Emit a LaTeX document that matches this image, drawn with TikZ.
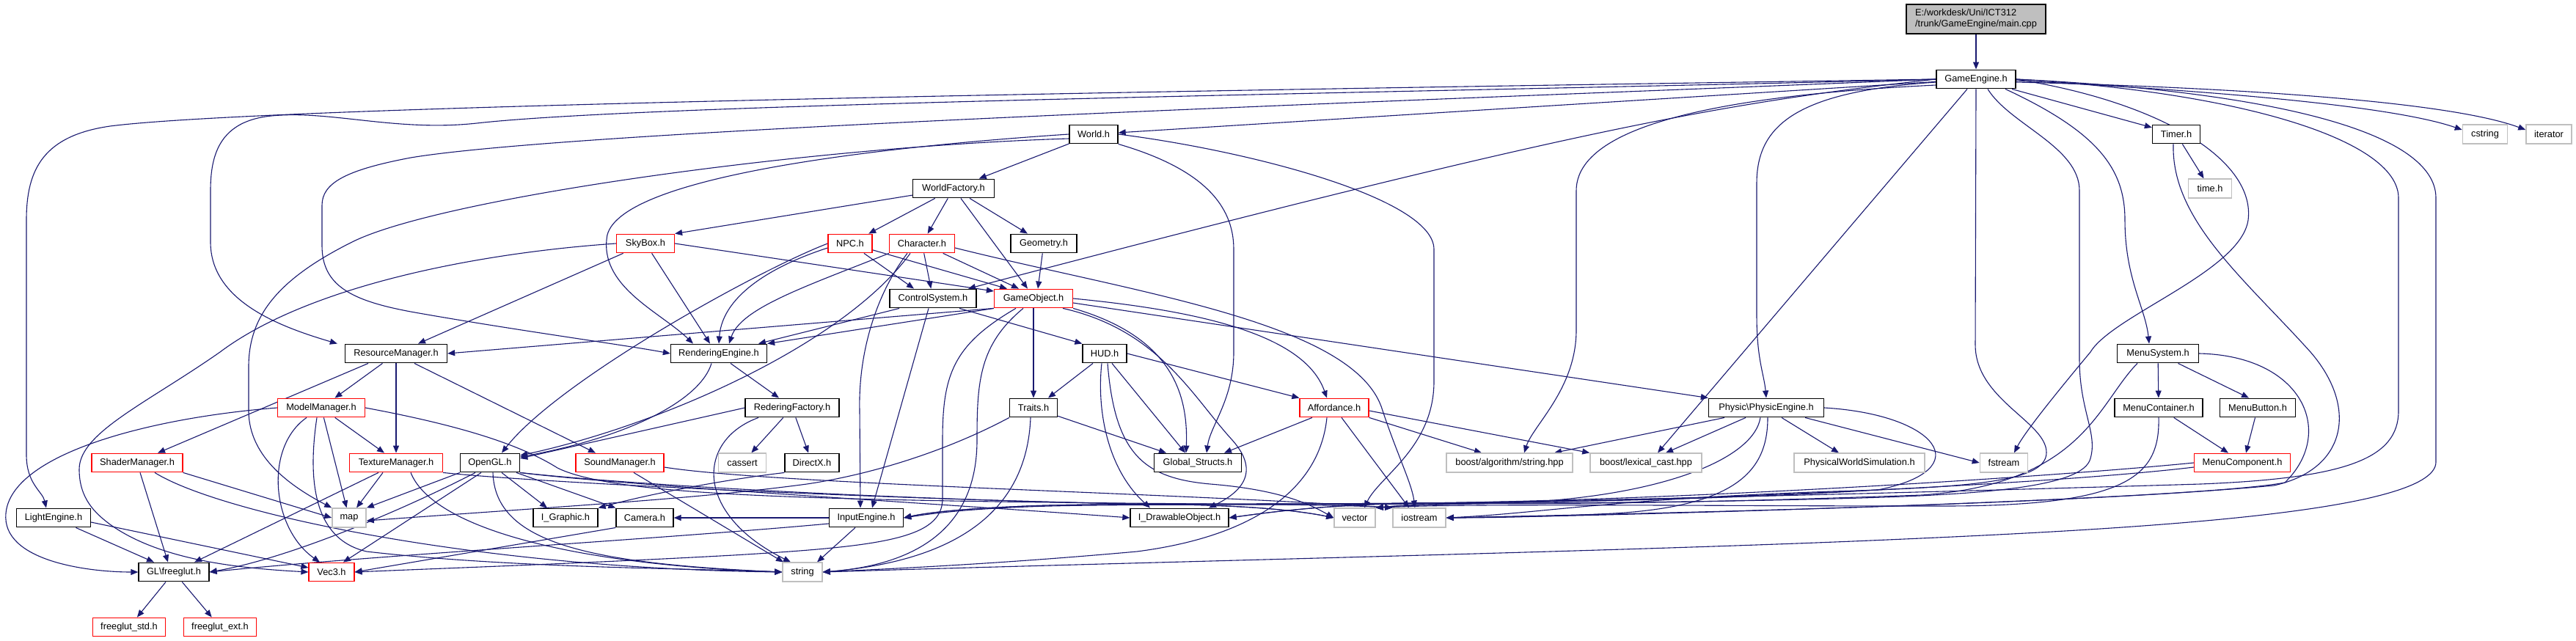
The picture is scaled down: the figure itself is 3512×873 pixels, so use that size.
\documentclass[tikz,border=0pt]{standalone}
\usepackage{fontspec}
\newfontfamily\nodefont{Liberation Sans}
\usetikzlibrary{arrows.meta}
\definecolor{edgec}{RGB}{25,25,112}
\definecolor{sysc}{RGB}{191,191,191}
\definecolor{mainfill}{RGB}{191,191,191}
\pgfdeclarelayer{bgl}
\pgfdeclarelayer{edgel}
\pgfsetlayers{bgl,edgel,main}
\tikzset{
  nd/.style={rectangle, inner sep=0pt, minimum height=12.8pt, fill=white, text=black, font=\nodefont\fontsize{6.4}{7.6}\selectfont},
  blk/.style={nd, draw=black, line width=0.65pt},
  rnd/.style={nd, draw=red, line width=0.6pt},
  sys/.style={nd, draw=sysc, line width=0.8pt},
  mainnode/.style={nd, draw=black, line width=0.65pt, fill=mainfill, minimum height=20pt, align=left},
  dep/.style={draw=edgec, line width=0.55pt, -{Triangle[length=5pt,width=4pt]}},
}
\begin{document}
\begin{tikzpicture}[x=0.5pt,y=-0.5pt]
\begin{pgfonlayer}{bgl}
\fill[white] (0,0) rectangle (3512,873);
\end{pgfonlayer}
\useasboundingbox (0,0) rectangle (3512,873);

% ---------------- nodes ----------------
\node[mainnode, minimum width=95pt] (main) at (2694,26) {E:/workdesk/Uni/ICT312\\/trunk/GameEngine/main.cpp};
\node[blk,minimum width=54pt] (GE) at (2694,108) {GameEngine.h};
\node[blk,minimum width=33pt] (World) at (1491,183) {World.h};
\node[blk,minimum width=32.5pt] (Timer) at (2967,183) {Timer.h};
\node[sys,minimum width=30.5pt] (cstring) at (3388,183) {cstring};
\node[sys,minimum width=31pt] (iterator) at (3475,183) {iterator};
\node[blk,minimum width=55.5pt] (WF) at (1300,257) {WorldFactory.h};
\node[sys,minimum width=29.5pt] (time) at (3013,257) {time.h};
\node[rnd,minimum width=39.5pt] (SkyBox) at (880,332) {SkyBox.h};
\node[rnd,minimum width=30pt] (NPC) at (1159,332) {NPC.h};
\node[rnd,minimum width=44.5pt] (Char) at (1257,332) {Character.h};
\node[blk,minimum width=45pt] (Geom) at (1423,332) {Geometry.h};
\node[blk,minimum width=59pt] (CS) at (1272,407) {ControlSystem.h};
\node[rnd,minimum width=53.5pt] (GO) at (1409,407) {GameObject.h};
\node[blk,minimum width=69.5pt] (RM) at (540,482) {ResourceManager.h};
\node[blk,minimum width=65.5pt] (RE) at (980,482) {RenderingEngine.h};
\node[blk,minimum width=30pt] (HUD) at (1506,482) {HUD.h};
\node[blk,minimum width=55.5pt] (MS) at (2942,482) {MenuSystem.h};
\node[rnd,minimum width=59.5pt] (MM) at (438,556) {ModelManager.h};
\node[blk,minimum width=64pt] (RF) at (1080,556) {RederingFactory.h};
\node[blk,minimum width=32.5pt] (Traits) at (1409,556) {Traits.h};
\node[rnd,minimum width=47pt] (Aff) at (1819,556) {Affordance.h};
\node[blk,minimum width=78.5pt] (PE) at (2408,556) {Physic\textbackslash PhysicEngine.h};
\node[blk,minimum width=60pt] (MC) at (2943,556) {MenuContainer.h};
\node[blk,minimum width=51.5pt] (MB) at (3078,556) {MenuButton.h};
\node[rnd,minimum width=62pt] (SM) at (187,631) {ShaderManager.h};
\node[rnd,minimum width=63.5pt] (TM) at (540,631) {TextureManager.h};
\node[blk,minimum width=40.5pt] (OGL) at (668,631) {OpenGL.h};
\node[rnd,minimum width=60pt] (SndM) at (845,631) {SoundManager.h};
\node[sys,minimum width=32.5pt] (cassert) at (1012,631) {cassert};
\node[blk,minimum width=37pt] (DX) at (1107,631) {DirectX.h};
\node[blk,minimum width=59.5pt] (GS) at (1633,631) {Global\_Structs.h};
\node[sys,minimum width=86pt] (balg) at (2058,631) {boost/algorithm/string.hpp};
\node[sys,minimum width=76pt] (blex) at (2244,631) {boost/lexical\_cast.hpp};
\node[sys,minimum width=89pt] (PWS) at (2535,631) {PhysicalWorldSimulation.h};
\node[sys,minimum width=32.5pt] (fstream) at (2732,631) {fstream};
\node[rnd,minimum width=65.5pt] (MComp) at (3057,631) {MenuComponent.h};
\node[blk,minimum width=50.5pt] (LE) at (73,706) {LightEngine.h};
\node[sys,minimum width=23pt] (map) at (476,706) {map};
\node[blk,minimum width=44pt] (IG) at (771,706) {I\_Graphic.h};
\node[blk,minimum width=39pt] (Cam) at (879,706) {Camera.h};
\node[blk,minimum width=50.5pt] (IE) at (1181,706) {InputEngine.h};
\node[blk,minimum width=67pt] (IDO) at (1608,706) {I\_DrawableObject.h};
\node[sys,minimum width=28pt] (vector) at (1847,706) {vector};
\node[sys,minimum width=36pt] (iostream) at (1935,706) {iostream};
\node[blk,minimum width=48pt] (GL) at (237,780) {GL\textbackslash freeglut.h};
\node[rnd,minimum width=31pt] (Vec3) at (452,780) {Vec3.h};
\node[sys,minimum width=27pt] (string) at (1094,780) {string};
\node[rnd,minimum width=49.5pt] (fstd) at (176,855) {freeglut\_std.h};
\node[rnd,minimum width=49.5pt] (fext) at (300,855) {freeglut\_ext.h};

% ---------------- edges ----------------
\begin{pgfonlayer}{edgel}
\draw[dep] (main) -- (GE);
% GameEngine.h
\draw[dep] (GE) -- (World);
\draw[dep] (GE) -- (Timer);
\draw[dep] ([yshift=-1pt]GE.east) .. controls (2950,120) and (3250,140) .. ([yshift=3pt]cstring.west);
\draw[dep] ([yshift=-2pt]GE.east) .. controls (3000,118) and (3330,135) .. ([yshift=3pt]iterator.west);
\draw[dep] (GE.west) .. controls (2000,118) and (400,140) .. (150,172) .. controls (60,185) and (36,230) .. (36,300) -- (36,620) .. controls (36,660) and (58,670) .. ([xshift=-5pt]LE.north);
\draw[dep] (GE.west) .. controls (2000,125) and (900,140) .. (650,168) .. controls (540,180) and (450,150) .. (370,158) .. controls (300,165) and (287,210) .. (287,260) -- (287,330) .. controls (287,410) and (380,445) .. ([xshift=-5pt]RM.north west);
\draw[dep] (GE.west) .. controls (2000,135) and (800,175) .. (560,215) .. controls (470,232) and (439,250) .. (439,280) -- (439,335) .. controls (439,390) and (480,410) .. (560,425) .. controls (700,450) and (850,470) .. (RE.west);
\draw[dep] (GE.west) .. controls (2350,140) and (2150,175) .. ([xshift=24pt]CS.north);
\draw[dep] ([xshift=20pt]GE.south) .. controls (2860,180) and (2897,230) .. (2897,300) .. controls (2897,380) and (2925,420) .. ([xshift=-6pt]MS.north);
\draw[dep] ([yshift=-2pt]GE.west) .. controls (2450,125) and (2395,170) .. (2395,250) -- (2395,430) .. controls (2395,490) and (2405,510) .. (PE.north);
\draw[dep] ([yshift=-4pt]GE.west) .. controls (2350,130) and (2149,170) .. (2149,260) -- (2149,450) .. controls (2149,530) and (2090,580) .. ([xshift=10pt]balg.north);
\draw[dep] ([xshift=-6pt]GE.south) -- ([xshift=8pt]blex.north);
\draw[dep] (GE.east) .. controls (2950,140) and (3075,220) .. (3065,300) .. controls (3055,370) and (2880,430) .. (2850,480) .. controls (2800,540) and (2760,590) .. ([xshift=7pt]fstream.north);
\draw[dep] (GE.east) .. controls (3100,125) and (3321,180) .. (3321,270) -- (3321,630) .. controls (3321,700) and (2900,722) .. (2550,737) .. controls (2200,752) and (1500,768) .. (string.east);
\draw[dep] (GE.east) .. controls (3050,125) and (3270,190) .. (3270,270) -- (3270,560) .. controls (3270,625) and (3200,652) .. (3000,660) .. controls (2500,675) and (2100,684) .. (1935,686) .. controls (1700,688) and (1500,686) .. (1400,690) .. controls (1300,694) and (1260,700) .. (IE.east);
\draw[dep] (GE.south) -- (2693,470) .. controls (2693,545) and (2790,575) .. (2790,617) .. controls (2790,655) and (2700,664) .. (2500,670) .. controls (2200,680) and (2100,700) .. (iostream.east);
\draw[dep] ([xshift=8pt]GE.south) .. controls (2740,170) and (2835,200) .. (2835,260) -- (2835,490) .. controls (2835,560) and (2860,590) .. (2850,625) .. controls (2840,665) and (2700,675) .. (2500,680) .. controls (2200,688) and (1950,684) .. (vector.north east);
% Timer.h
\draw[dep] (Timer) -- (time);
\draw[dep] ([xshift=-2pt]Timer.south) .. controls (2960,300) and (3060,380) .. (3150,480) .. controls (3215,555) and (3200,640) .. (3100,662) .. controls (2800,690) and (2150,702) .. (iostream.east);
% World.h
\draw[dep] (World) -- (WF);
\draw[dep] (World.west) .. controls (1200,200) and (850,240) .. (828,320) .. controls (815,390) and (900,425) .. ([xshift=-17.5pt]RE.north);
\draw[dep] ([yshift=-3pt]World.west) .. controls (1100,200) and (600,270) .. (480,330) .. controls (380,380) and (339,430) .. (339,500) -- (339,560) .. controls (339,625) and (400,665) .. (map.north west);
\draw[dep] (World.south east) .. controls (1640,230) and (1682,280) .. (1682,340) -- (1682,480) .. controls (1682,545) and (1650,580) .. ([xshift=6pt]GS.north);
\draw[dep] (World.east) .. controls (1700,205) and (1955,270) .. (1955,340) -- (1955,520) .. controls (1955,610) and (1880,650) .. ([xshift=6.5pt]vector.north);
% WorldFactory.h
\draw[dep] (WF) -- (SkyBox.north east);
\draw[dep] (WF) -- (NPC);
\draw[dep] (WF) -- (Char);
\draw[dep] (WF) -- (Geom);
\draw[dep] (WF) -- ([xshift=-4pt]GO.north);
% SkyBox.h
\draw[dep] (SkyBox) -- ([xshift=15pt]RM.north);
\draw[dep] (SkyBox) -- ([xshift=-6pt]RE.north);
\draw[dep] (SkyBox.east) -- ([yshift=5pt]GO.west);
\draw[dep] (SkyBox.west) .. controls (650,345) and (420,390) .. (300,480) .. controls (200,550) and (108,590) .. (108,640) .. controls (108,680) and (130,700) .. (150,715) .. controls (220,765) and (330,775) .. (Vec3.west);
% NPC.h
\draw[dep] (NPC.west) .. controls (1030,370) and (760,520) .. ([xshift=8pt]OGL.north);
\draw[dep] ([yshift=-3pt]NPC.west) .. controls (1060,360) and (985,400) .. (RE.north);
\draw[dep] (NPC) -- ([xshift=-13pt]CS.north);
\draw[dep] (NPC) -- ([xshift=-18pt]GO.north);
% Character.h
\draw[dep] (Char.south west) .. controls (1100,390) and (1010,420) .. ([xshift=7pt]RE.north);
\draw[dep] ([xshift=-8pt]Char.south) .. controls (1150,470) and (900,580) .. ([yshift=5pt]OGL.east);
\draw[dep] ([xshift=-10pt]Char.south) .. controls (1195,400) and (1170,480) .. (1172,560) -- ([xshift=-4pt]IE.north);
\draw[dep] (Char) -- (CS);
\draw[dep] (Char) -- ([xshift=-10pt]GO.north);
\draw[dep] ([yshift=-3pt]Char.east) .. controls (1550,400) and (1850,440) .. (1885,560) .. controls (1905,620) and (1925,660) .. ([xshift=-3pt]iostream.north);
% Geometry.h
\draw[dep] (Geom) -- ([xshift=3pt]GO.north);
% ControlSystem.h
\draw[dep] ([xshift=-23pt]CS.south) -- ([xshift=27pt]RE.north);
\draw[dep] ([xshift=-3pt]CS.south) -- ([xshift=4pt]IE.north);
\draw[dep] ([xshift=18pt]CS.south) -- (HUD.north west);
% GameObject.h
\draw[dep] (GO.south west) -- (RM.east);
\draw[dep] (GO.south west) -- (RE.north east);
\draw[dep] (GO) -- (Traits);
\draw[dep] (GO.south east) .. controls (1600,460) and (1620,540) .. ([xshift=-8pt]GS.north);
\draw[dep] ([xshift=20pt]GO.south) .. controls (1580,450) and (1625,540) .. (1680,600) .. controls (1720,645) and (1690,672) .. ([xshift=20pt]IDO.north);
\draw[dep] (GO.east) .. controls (1650,425) and (1780,460) .. ([xshift=-5pt]Aff.north);
\draw[dep] ([yshift=-3pt]GO.east) -- (PE.north west);
\draw[dep] ([xshift=-7pt]GO.south) .. controls (1335,470) and (1332,520) .. (1332,600) .. controls (1332,720) and (1250,770) .. (string.east);
\draw[dep] ([xshift=-12pt]GO.south) .. controls (1300,470) and (1285,510) .. (1285,600) -- (1285,680) .. controls (1285,735) and (1200,745) .. (1000,757) .. controls (800,768) and (600,775) .. (Vec3.east);
% ResourceManager.h
\draw[dep] (RM) -- (MM);
\draw[dep] ([xshift=-19pt]RM.south) -- ([xshift=14pt]SM.north);
\draw[dep] (RM) -- (TM);
\draw[dep] ([xshift=12.5pt]RM.south) -- ([xshift=-16.5pt]SndM.north);
% ModelManager.h
\draw[dep] (MM) -- ([xshift=-8pt]TM.north);
\draw[dep] (MM) -- (map);
\draw[dep] ([xshift=-10pt]MM.south) .. controls (360,610) and (370,720) .. ([xshift=-8pt]Vec3.north);
\draw[dep] (MM.west) .. controls (200,570) and (15,620) .. (8,700) .. controls (2,765) and (120,780) .. (GL.west);
\draw[dep] ([xshift=-3pt]MM.south) .. controls (420,650) and (425,735) .. (500,752) .. controls (700,775) and (950,775) .. (string.west);
\draw[dep] (MM.east) .. controls (600,575) and (700,600) .. (760,638) .. controls (820,668) and (1000,676) .. (1200,681) .. controls (1500,688) and (1800,686) .. (iostream.north west);
% ShaderManager.h
\draw[dep] ([xshift=2pt]SM.south) -- ([xshift=-4pt]GL.north);
\draw[dep] (SM.south east) -- (map.west);
\draw[dep] ([xshift=12pt]SM.south) .. controls (300,700) and (650,775) .. (string.west);
% TextureManager.h
\draw[dep] ([xshift=-9pt]TM.south) -- ([xshift=5pt]map.north);
\draw[dep] ([xshift=-12pt]TM.south) -- ([xshift=14pt]GL.north);
\draw[dep] ([xshift=10pt]TM.south) .. controls (590,720) and (780,770) .. (string.west);
\draw[dep] (TM.south east) .. controls (750,660) and (1300,684) .. (1608,688) .. controls (1720,690) and (1780,698) .. (vector.west);
% SoundManager.h
\draw[dep] ([xshift=9.5pt]SndM.south) -- ([xshift=-13pt]string.north);
\draw[dep] ([yshift=-3pt]SndM.east) .. controls (1050,660) and (1600,672) .. (iostream.north west);
% OpenGL.h
\draw[dep] (OGL.south west) -- (map.north east);
\draw[dep] ([xshift=-10pt]OGL.south) .. controls (560,690) and (400,760) .. (GL.east);
\draw[dep] ([xshift=-6pt]OGL.south) -- ([xshift=8pt]Vec3.north);
\draw[dep] ([xshift=8pt]OGL.south) -- ([xshift=-12.5pt]IG.north);
\draw[dep] ([xshift=18pt]OGL.south) -- (Cam.north west);
\draw[dep] ([xshift=2pt]OGL.south) .. controls (675,740) and (800,768) .. (string.west);
\draw[dep] (OGL.south east) .. controls (850,662) and (1300,688) .. (IDO.west);
\draw[dep] (OGL.south east) .. controls (900,665) and (1300,684) .. (1608,688) .. controls (1720,690) and (1780,698) .. (vector.west);
% RenderingEngine.h
\draw[dep] ([xshift=8pt]RE.south) -- ([xshift=-9pt]RF.north);
\draw[dep] ([xshift=-5pt]RE.south) .. controls (955,545) and (860,595) .. ([yshift=4pt]OGL.east);
% RederingFactory.h
\draw[dep] (RF.west) -- ([yshift=3pt]OGL.east);
\draw[dep] (RF) -- (cassert);
\draw[dep] (RF) -- (DX);
\draw[dep] ([xshift=-23pt]RF.south) .. controls (950,600) and (945,700) .. ([xshift=-8pt]string.north);
% DirectX.h
\draw[dep] (DX.south west) .. controls (980,655) and (880,675) .. (IG.north east);
% Traits.h
\draw[dep] (Traits) -- ([xshift=-21.5pt]GS.north);
\draw[dep] (Traits.south west) .. controls (1300,610) and (1200,645) .. (1100,660) .. controls (950,680) and (800,688) .. ([yshift=-2pt]map.east);
\draw[dep] ([xshift=-2pt]Traits.south) .. controls (1400,700) and (1300,765) .. (string.east);
% HUD.h
\draw[dep] ([xshift=-8pt]HUD.south) -- ([xshift=10pt]Traits.north);
\draw[dep] ([xshift=5pt]HUD.south) -- ([xshift=-8.5pt]GS.north);
\draw[dep] (HUD.east) -- (Aff.north west);
\draw[dep] ([xshift=-2pt]HUD.south) .. controls (1495,560) and (1510,640) .. ([xshift=-20pt]IDO.north);
\draw[dep] ([xshift=2pt]HUD.south) .. controls (1520,620) and (1560,652) .. (1650,660) .. controls (1750,668) and (1790,690) .. (vector.west);
% Affordance.h
\draw[dep] ([xshift=-15pt]Aff.south) -- ([xshift=18pt]GS.north);
\draw[dep] (Aff.south east) -- ([xshift=-19pt]balg.north);
\draw[dep] ([yshift=-2pt]Aff.east) -- (blex.north west);
\draw[dep] ([xshift=5pt]Aff.south) -- ([xshift=-7pt]iostream.north);
\draw[dep] ([xshift=-5pt]Aff.south) .. controls (1800,660) and (1720,730) .. (1550,752) .. controls (1350,770) and (1200,776) .. (string.east);
% Physic\PhysicEngine.h
\draw[dep] ([xshift=-28.5pt]PE.south) -- ([xshift=30.5pt]balg.north);
\draw[dep] ([xshift=-14pt]PE.south) -- ([xshift=13.5pt]blex.north);
\draw[dep] ([xshift=10.5pt]PE.south) -- ([xshift=-14pt]PWS.north);
\draw[dep] ([xshift=26.5pt]PE.south) -- (fstream.west);
\draw[dep] ([xshift=-4pt]PE.south) .. controls (2390,630) and (2250,680) .. (2050,686) .. controls (1950,688) and (1900,690) .. (vector.north east);
\draw[dep] ([xshift=1pt]PE.south) .. controls (2410,640) and (2370,690) .. (2200,700) .. controls (2100,705) and (2020,706) .. (iostream.east);
\draw[dep] (PE.east) .. controls (2640,565) and (2700,640) .. (2560,668) .. controls (2300,684) and (2050,685) .. (1935,686) .. controls (1800,688) and (1720,700) .. (IDO.east);
% MenuSystem.h
\draw[dep] (MS) -- (MC);
\draw[dep] (MS) -- ([xshift=-6pt]MB.north);
\draw[dep] ([xshift=-14pt]MS.south) .. controls (2860,550) and (2840,660) .. (2620,675) .. controls (2200,690) and (2050,686) .. (1935,686) .. controls (1700,688) and (1500,686) .. (1400,690) .. controls (1300,694) and (1260,700) .. (IE.east);
\draw[dep] (MS.east) .. controls (3140,485) and (3185,590) .. (3115,658) .. controls (3000,680) and (2300,700) .. (2100,704) -- (iostream.east);
% MenuContainer.h / MenuButton.h
\draw[dep] (MC) -- ([xshift=-9.5pt]MComp.north);
\draw[dep] (MC.south) .. controls (2945,650) and (2900,690) .. (2650,690) .. controls (2300,690) and (2000,686) .. (vector.north east);
\draw[dep] (MB) -- ([xshift=2.5pt]MComp.north);
% MenuComponent.h
\draw[dep] (MComp.west) .. controls (2800,650) and (2300,682) .. (1935,686) .. controls (1800,688) and (1720,700) .. (IDO.east);
\draw[dep] ([yshift=-3pt]MComp.west) .. controls (2800,660) and (2300,684) .. (1935,687) .. controls (1700,689) and (1500,687) .. (1400,691) .. controls (1300,695) and (1260,702) .. (IE.east);
% Camera.h, InputEngine.h
\draw[dep] (Cam.south west) -- (Vec3.east);
\draw[dep] ([xshift=-7.5pt]IE.south) -- ([xshift=10pt]string.north);
\draw[dep] (IE.west) -- (Cam.east);
\draw[dep] ([yshift=-4pt]IE.west) .. controls (900,735) and (500,758) .. (GL.east);
% LightEngine.h
\draw[dep] (LE) -- ([xshift=-13.5pt]GL.north);
\draw[dep] ([yshift=-3pt]LE.east) -- ([yshift=3pt]Vec3.west);
% GL\freeglut.h
\draw[dep] (GL) -- (fstd);
\draw[dep] (GL) -- (fext);
\end{pgfonlayer}
\end{tikzpicture}
\end{document}
